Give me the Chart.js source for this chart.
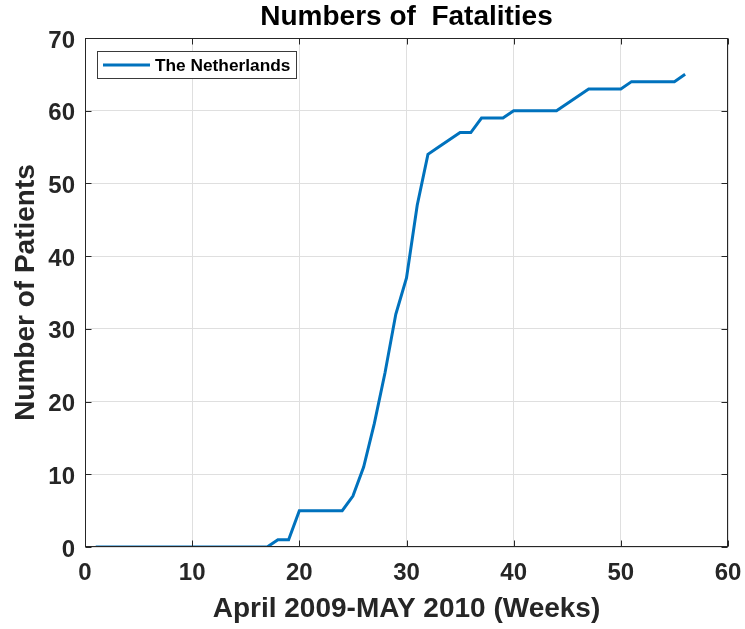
<!DOCTYPE html>
<html>
<head>
<meta charset="utf-8">
<title>Numbers of Fatalities</title>
<script src="https://cdn.jsdelivr.net/npm/chart.js@4"></script>
<style>
  body { margin: 0; background: #fff; }
  #wrap { width: 745px; height: 629px; }
</style>
</head>
<body>
<div id="wrap"><canvas id="fatalChart" width="745" height="629"></canvas></div>
<script>
// weekly cumulative fatalities
const weeks = [1, 2, 3, 4, 5, 6, 7, 8, 9, 10, 11, 12, 13, 14, 15, 16, 17, 18, 19, 20,
  21, 22, 23, 24, 25, 26, 27, 28, 29, 30, 31, 32, 33, 34, 35, 36, 37, 38, 39, 40,
  41, 42, 43, 44, 45, 46, 47, 48, 49, 50, 51, 52, 53, 54, 55, 56];
const fatalities = [0, 0, 0, 0, 0, 0, 0, 0, 0, 0, 0, 0, 0, 0, 0, 0, 0, 1, 1, 5,
  5, 5, 5, 5, 7, 11, 17, 24, 32, 37, 47, 54, 55, 56, 57, 57, 59, 59, 59, 60,
  60, 60, 60, 60, 61, 62, 63, 63, 63, 63, 64, 64, 64, 64, 64, 65];
const seriesName = 'The Netherlands';
const xRange = [0, 60];
const yRange = [0, 70];

const textColor = '#262626';
const lineColor = '#0072BD';
const fontFamily = "'Liberation Sans', Arial, Helvetica, sans-serif";

Chart.defaults.font.family = fontFamily;
Chart.defaults.color = textColor;

// matlab style box with inward ticks + legend box in the top left corner
const matlabFrame = {
  id: 'matlabFrame',
  afterDraw(chart) {
    const { ctx, chartArea: a, scales } = chart;
    const L = Math.round(a.left) + 0.5, R = Math.round(a.right) - 0.5;
    const T = Math.round(a.top) + 0.5, B = Math.round(a.bottom) - 0.5;
    const tickLen = 6;
    ctx.save();
    ctx.strokeStyle = textColor;
    ctx.lineWidth = 1;
    ctx.strokeRect(L, T, R - L, B - T);
    ctx.beginPath();
    scales.x.ticks.forEach(t => {
      const px = Math.round(scales.x.getPixelForValue(t.value)) + 0.5;
      ctx.moveTo(px, B); ctx.lineTo(px, B - tickLen);
      ctx.moveTo(px, T); ctx.lineTo(px, T + tickLen);
    });
    scales.y.ticks.forEach(t => {
      const py = Math.round(scales.y.getPixelForValue(t.value)) + 0.5;
      ctx.moveTo(L, py); ctx.lineTo(L + tickLen, py);
      ctx.moveTo(R, py); ctx.lineTo(R - tickLen, py);
    });
    ctx.stroke();

    // legend
    const ds = chart.data.datasets[0];
    const bx = 97.5, by = 51.5, bw = 199, bh = 27;
    ctx.fillStyle = '#fff';
    ctx.fillRect(bx, by, bw, bh);
    ctx.strokeStyle = '#3a3a3a';
    ctx.strokeRect(bx, by, bw, bh);
    ctx.strokeStyle = ds.borderColor;
    ctx.lineWidth = 3;
    ctx.beginPath();
    ctx.moveTo(103, 65);
    ctx.lineTo(150, 65);
    ctx.stroke();
    ctx.fillStyle = '#000';
    ctx.font = 'bold 17.3px ' + fontFamily;
    ctx.textBaseline = 'middle';
    ctx.textAlign = 'left';
    ctx.fillText(ds.label, 155, 66);
    ctx.restore();
  }
};

const ctx = document.getElementById('fatalChart');
new Chart(ctx, {
  type: 'line',
  data: {
    datasets: [{
      label: seriesName,
      data: weeks.map((w, i) => ({ x: w, y: fatalities[i] })),
      borderColor: lineColor,
      backgroundColor: lineColor,
      borderWidth: 3,
      pointRadius: 0,
      tension: 0,
      fill: false
    }]
  },
  options: {
    responsive: false,
    animation: false,
    layout: { padding: { top: 0, right: 17, bottom: 0, left: 0 } },
    plugins: {
      legend: { display: false },
      tooltip: { enabled: false },
      title: {
        display: true,
        text: 'Numbers of  Fatalities',
        fullSize: false,
        color: '#000',
        font: { size: 28, weight: 'bold', lineHeight: 1 },
        padding: { top: 3, bottom: 7 }
      }
    },
    scales: {
      x: {
        type: 'linear',
        min: xRange[0],
        max: xRange[1],
        grid: { color: '#dfdfdf', drawTicks: false },
        border: { display: false },
        ticks: {
          stepSize: 10,
          padding: 12,
          color: textColor,
          font: { size: 24, weight: 'bold', lineHeight: 1.2 }
        },
        title: {
          display: true,
          text: 'April 2009-MAY 2010 (Weeks)',
          color: textColor,
          font: { size: 28, weight: 'bold', lineHeight: 1 },
          padding: { top: 0, bottom: 6 }
        },
        afterFit(scale) {
          scale.height = 82;
          scale.paddingLeft = 0;
          scale.paddingRight = 0;
        }
      },
      y: {
        min: yRange[0],
        max: yRange[1],
        grid: { color: '#dfdfdf', drawTicks: false },
        border: { display: false },
        ticks: {
          stepSize: 10,
          padding: 10,
          labelOffset: 3,
          color: textColor,
          font: { size: 24, weight: 'bold', lineHeight: 1.2 }
        },
        title: {
          display: true,
          text: 'Number of Patients',
          color: textColor,
          font: { size: 28, weight: 'bold', lineHeight: 1 },
          padding: { top: 12, bottom: 0 }
        },
        afterFit(scale) {
          scale.width = 85;
          scale.paddingTop = 0;
          scale.paddingBottom = 0;
        }
      }
    }
  },
  plugins: [matlabFrame]
});
</script>
</body>
</html>
